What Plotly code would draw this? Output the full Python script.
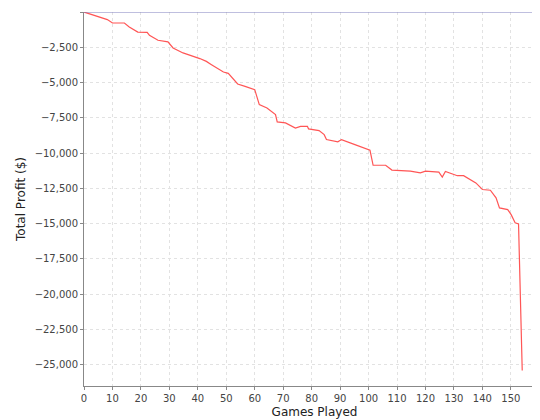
import plotly.graph_objects as go

games = [0, 4.7, 8.2, 10, 14.2, 15.9, 18.9, 22.2, 23, 26, 29.5, 31.3, 34.8, 40.7, 43, 44.8,
         49, 50.7, 54, 56.6, 60, 61.6, 64.3, 67.3, 67.9, 70.8, 74.3, 76.1, 78.5, 78.9,
         82.6, 84.4, 85.2, 89.2, 90.5, 95.2, 100.5, 101.6, 106, 108.2, 114.7, 118.2, 120,
         124.7, 125.9, 127, 131.2, 133.4, 135.9, 137.7, 140, 142.8, 144.8, 146, 148.9,
         150.1, 151.5, 152.7, 154]
profit = [0, -300, -540, -780, -780, -1060, -1420, -1440, -1650, -2000, -2120, -2550, -2900,
          -3300, -3500, -3730, -4250, -4350, -5100, -5270, -5500, -6560, -6800, -7270, -7790,
          -7860, -8220, -8100, -8100, -8280, -8400, -8690, -9040, -9200, -9040, -9400, -9800,
          -10860, -10860, -11200, -11280, -11400, -11280, -11350, -11700, -11300, -11600,
          -11600, -11920, -12110, -12580, -12630, -13170, -13880, -14000, -14360, -14940,
          -15010, -25400]

fig = go.Figure(go.Scatter(x=games, y=profit, mode="lines",
                           line=dict(color="#ff5555", width=1.2), hoverinfo="skip"))

grid = dict(showgrid=True, gridcolor="#e2e2e2", griddash="3px,3px", gridwidth=1,
            zeroline=False, showline=True, linecolor="#888888", ticks="outside",
            ticklen=3, tickcolor="#888888", automargin=False,
            tickfont=dict(size=10, color="#444444"))

fig.update_xaxes(range=[0, 162], dtick=10, title=dict(text="Games Played", font=dict(size=12, color="#222222"), standoff=4), **grid)
fig.update_yaxes(range=[-26500, 0], dtick=2500, tickformat=",", title=dict(text="Total Profit ($)", font=dict(size=12, color="#222222"), standoff=6), **grid)

fig.add_hline(y=0, line=dict(color="#8080c0", width=1))

fig.update_layout(width=540, height=420, margin=dict(l=76, r=3, t=4, b=42),
                  plot_bgcolor="white", paper_bgcolor="white",
                  font=dict(family="DejaVu Sans"), showlegend=False)

fig.write_html("out.html")
